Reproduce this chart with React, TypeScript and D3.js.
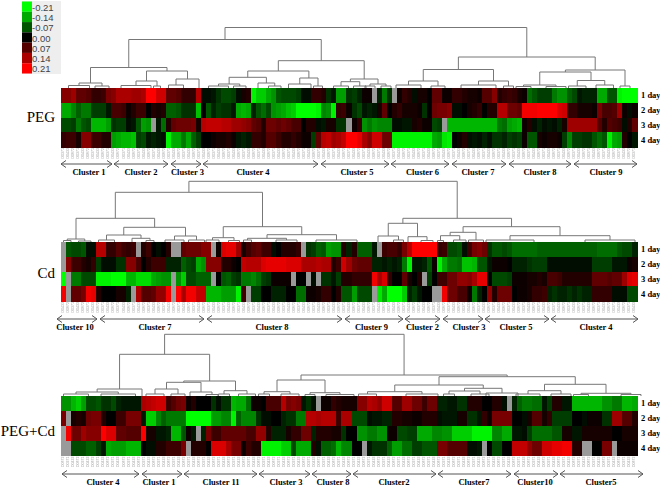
import React from "react";
import * as d3 from "d3";

const na = null;
// Heat values, in hundredths, one entry per column (na = missing, grey)
const pegDay1 = [11,11,13,8,8,7,4,4,5,10, 11,14,14,14,13,13,14,21,21,17, 17,8,8,7,4,4,4,15,-1,-1, -2,-4,-6,-6,-5,-1,2,3,-20,-17, -17,-14,-12,-7,-6,-6,-6,-5,-1,-1, 4,4,3,-4,-2,-13,-13,-4,-5,-3, 1,1,na,-3,-10,-4,na,1,4,3, -1,2,2,0,8,8,1,1,4,4, 3,2,2,1,7,7,11,3,4,5, 4,2,1,-9,-7,-5,-5,-5,-10,-12, -12,-8,-6,-2,-3,-3,-3,-14,-14,-7, -7,-20,-21,-21,-21];
const pegDay2 = [-14,-14,-11,-8,-10,-10,-5,-5,-5,-2, 6,6,5,1,3,5,5,0,3,2, 3,-8,-8,-7,-4,-4,-4,-16,0,-7, -3,-5,-4,-4,-2,-14,-15,-14,-3,-7, -9,-6,-12,-13,-14,-16,-17,-21,-21,-21, -21,-20,-11,-12,-20,4,5,1,-4,-6, -2,-3,-2,2,8,0,3,4,2,2, 2,1,-4,0,9,10,10,11,-1,-1, 0,2,3,4,0,3,3,15,15,9, 9,8,20,20,20,21,21,21,21,18, 17,4,4,2,2,2,1,10,6,6, 7,13,1,-1,1];
const pegDay3 = [-6,-6,-5,-10,-7,-6,-15,-15,-15,-13, -4,-5,-5,-1,-2,-7,-13,-12,na,-2, -9,3,8,9,9,9,10,2,15,16, 16,16,15,15,13,13,12,11,8,7, 3,9,9,8,9,8,6,6,0,3, 3,-1,-2,2,2,-4,-4,na,1,4, -12,-10,-12,-11,-11,-11,-1,-1,-2,-2, 2,3,1,1,-6,-5,na,-15,-15,-15, -15,-15,-15,-15,-15,-15,-15,-10,-9,-13, -14,-15,1,3,-1,-3,-1,-2,-1,-3, 2,13,13,13,13,13,13,7,3,7, 6,5,-1,3,8];
const pegDay4 = [4,5,5,2,11,11,5,5,3,3, -13,-14,-15,-15,-16,-5,-6,-2,-3,-2, -1,-20,-14,-14,-10,-14,-8,-5,0,0, 1,2,2,3,1,-2,-3,-2,4,4, 3,7,7,5,3,3,4,3,1,1, -5,8,15,16,13,14,16,21,21,19, 14,11,17,17,9,9,-20,-20,-20,-20, -20,-20,-20,-20,-14,-13,-19,-20,0,1, 3,-1,-2,-1,-3,-1,-4,-4,-3,-5, -4,-5,1,-7,-7,2,1,2,2,1, -5,-11,-5,-5,-4,-4,-7,-9,-7,-20, -14,-13,3,0,-2];

const cdDay1 = [na,-7,-6,-6,-7,-1,-1,15,15,4, 4,7,5,4,5,na,3,5,0,-1, 0,3,na,na,8,9,9,9,11,11, na,1,18,19,19,13,2,5,7,8, 5,5,-1,0,3,3,3,4,na,-4, -5,-8,-7,-13,-12,-12,3,-3,3,-8, -8,-8,-2,na,5,6,6,4,10,15, 21,21,21,21,21,4,5,-6,-6,-7, -1,5,10,11,9,-4,-7,-7,-6,-7, -9,-9,-9,-9,-9,-8,-8,-8,-8,-8, -8,-8,-8,-8,-8,-8,-8,-9,-9,-9, -9,-7,-6,-6,-3];
const cdDay2 = [na,11,5,5,3,2,4,-5,-1,-1, -1,-4,-4,11,11,6,0,3,5,5, 5,-3,-3,-3,-8,-6,-5,-14,-12,11, 11,11,3,3,1,0,16,15,15,15, 18,19,19,19,19,18,18,18,14,14, 14,15,14,14,3,5,17,13,9,8, 8,8,-3,-3,-2,-3,-2,-3,-10,-20, -2,-2,-3,-7,1,-20,-14,-10,-10,-9, -16,-16,-15,-7,-7,-2,1,1,1,0, -3,-3,-3,-4,-5,-5,-5,-1,-1,-1, -1,-1,-1,-1,-1,-1,-5,-5,-5,-5, -2,-2,-2,1,2];
const cdDay3 = [-21,na,-10,-10,-6,-6,-6,-20,-20,-20, -21,-21,-21,-15,-15,-18,-18,-18,-14,-13, -12,-12,na,-12,-17,-6,-6,-8,-8,-8, na,0,-7,-8,-5,-4,-10,-10,-11,-9, -5,-4,1,1,1,1,na,0,0,na, -1,na,-4,-4,-2,-5,3,3,4,4, 4,4,20,14,18,4,0,0,8,2, 0,3,na,-5,0,5,5,9,9,12, 12,11,14,19,19,0,-6,-6,-6,-5, 1,1,1,2,2,3,2,6,6,5, 3,3,3,3,3,3,8,8,8,7, 8,8,13,18,19];
const cdDay4 = [20,na,8,8,10,20,19,3,0,0, 0,2,2,-3,na,14,7,7,8,12, 12,20,na,21,14,20,20,16,16,-15, -15,-15,-13,-13,-13,-20,5,na,-5,-5, 0,0,-3,-3,-3,0,0,-9,-9,1, 1,2,4,4,0,3,-7,-7,-13,-6, -6,-6,na,-19,-14,-21,-21,-21,-17,-3, -5,-2,0,0,na,na,20,9,9,6, 6,1,-10,-3,0,12,3,9,9,9, 0,1,1,2,4,4,5,-3,-4,-3, -3,-4,-3,-4,-3,-3,4,4,4,4, -1,-1,-1,-6,-6];

const mixDay1 = [-12,-12,-15,-17,-13,-6,-6,-7,-4,-4, -6,-3,-2,-2,-2,-2,14,15,16,17, 17,5,7,9,10,1,3,0,0,0, -4,-1,-4,-4,-15,-14,-14,-9,1,1, 0,6,6,6,15,10,11,10,-2,-4, -1,na,1,1,4,3,2,2,2,11, 11,15,14,12,17,17,7,7,13,13, 9,9,5,9,9,-3,-3,-2,-2,-4, -4,3,3,3,0,0,3,3,-1,na, -3,-8,-10,-10,-9,-9,-2,-5,3,3, -2,-2,-15,-15,-15,-15,-15,-15,-12,-12, -10,-10,-15,-15,-14];
const mixDay2 = [10,na,2,3,2,9,10,10,3,0, 0,5,5,10,10,10,-2,-17,-17,-11, -8,-10,-10,-10,-10,-21,-21,-21,-21,-21, -13,-13,-11,-11,-20,-8,-11,-11,-11,-4, -1,-1,0,0,-3,-4,-4,-10,-10,15, 15,14,15,15,15,5,14,14,-6,-6, -6,-1,-2,-2,-3,-3,3,3,2,2, 1,1,3,3,3,-1,-2,-2,-2,2, 2,-4,-4,-2,4,1,10,10,10,10, 0,0,-1,2,7,7,2,4,-5,-5, -5,-5,0,0,-1,1,1,1,-4,-4, 13,13,7,7,3];
const mixDay3 = [na,20,9,9,13,11,11,11,21,18, 18,8,8,7,7,7,21,2,2,-2, -2,-3,-15,-15,-7,1,-2,na,-3,10, 5,5,8,8,8,8,8,6,6,12, 12,3,-3,-3,-3,2,4,4,9,9, -3,3,3,3,2,2,-4,0,0,-12, -12,-10,-10,-12,-12,1,1,-6,-6,-5, -5,-14,-14,-14,-11,-11,-12,-12,-17,-17, -17,-17,-20,-20,-20,-20,-11,-11,-14,-14, -2,-2,-1,-5,-9,-9,-9,-9,-7,-7, 2,2,-2,-2,2,2,2,2,2,2, 0,0,2,2,2];
const mixDay4 = [na,na,-6,-6,-6,-8,-8,-5,-2,-14, -13,-13,-13,-15,-15,-15,0,-1,-1,3, 3,5,5,5,10,na,3,3,3,0, 18,18,18,14,10,10,1,5,3,3, -20,-20,-20,-20,-17,-17,-6,-14,-14,-14, 3,-1,-8,-8,-9,-15,-11,-11,0,0, na,-2,-4,-4,-4,-8,-13,-13,-9,-9, -5,-5,-7,-7,-7,10,10,7,7,7, 7,-1,-1,-2,na,0,-6,-6,0,0, 16,16,16,12,9,9,17,17,19,19, 20,20,3,3,na,na,0,0,10,10, na,1,1,1,1];

const days = ["1 day", "2 day", "3 day", "4 day"];
const legendValues = [-0.21, -0.14, -0.07, 0, 0.07, 0.14, 0.21];
const legendLabels = ["-0.21", "-0.14", "-0.07", "0.00", "0.07", "0.14", "0.21"];

const pegClusters = ["Cluster 1","Cluster 2","Cluster 3","Cluster 4","Cluster 5","Cluster 6","Cluster 7","Cluster 8","Cluster 9"];
const pegSpans = [[0,10.2],[10.6,21.4],[22,28],[28.4,51.4],[52,65.6],[66,77.6],[78.2,89],[89.6,102],[102.6,115.2]];
const pegLabelAt = [5.6,16,25.3,38.4,59.2,72.3,83.4,95.8,109];
const cdClusters = ["Cluster 10","Cluster 7","Cluster 8","Cluster 9","Cluster 2","Cluster 3","Cluster 5","Cluster 4"];
const cdSpans = [[-0.8,7.2],[7.8,28.6],[29.2,56.2],[56.8,68.4],[68.8,75.8],[76.4,84.4],[84.8,97.6],[98,115.4]];
const cdLabelAt = [2.8,18.8,42.2,62.1,72.3,81.6,91,107];
const mixClusters = ["Cluster 4","Cluster 1","Cluster 11","Cluster 3","Cluster 8","Cluster2","Cluster7","Cluster10","Cluster5"];
const mixSpans = [[0.2,15.6],[16.2,24.2],[24.6,39.2],[39.6,49.8],[50.2,58],[58.4,75],[75.4,90],[90.6,99.4],[99.8,116.4]];
const mixLabelAt = [8.4,19.6,32,45,54.4,66.6,82.6,94.8,108];

const geneIds = ["D105","D0212","D063","D1148","D0371","D92","D0147","D058","D1036","D0284","D719","D0433","D096","D1172","D0561","D308","D0845","D129","D0672","D1011","D254"];

// Dendrograms: [height, left, right]; a plain number is a leaf at that column position
type Tree = [number, Tree | number, Tree | number];
const pegTree: Tree = [60.5,
  [48.5,
    [20.5, [5,[2.5,1.5,5.7],[2,6.8,9.6]],
      [17, [7,[2.5,12,18],[2,18.5,19.9]], [9,[3,21.5,24.5],27.6]]],
    [27.3,
      [17,
        [10.7,[4,[2,29.5,33.5],[2,34.5,37]],[5,39.4,[2,41.5,44]]],
        [10,[4,45.5,50],[2,50.5,52.3]]],
      [9,[6.3,[2,54.5,57.5],[2,58.5,61]],[4,[2,60.8,62.8],[2,64,66]]]]],
  [31,
    [18.5,
      [7,[3,67,72],[2,74,76.8]],
      [7,[3,80,87],[2,88.5,90.5]]],
    [18,
      [16,[3,[1.5,91,94],[1.5,97,101]],[7.5,[2,101.5,105],[3,107,110.5]]],
      [2,111.8,113.8]]]];
const cdTree: Tree = [60.7,
  [49.7,
    [23.7,
      [3,[1.5,0.5,2],[1,3.5,6]],
      [14.7,
        [7,[2,7.5,10.7],[3.7,14.2,[1.5,17,18.6]]],
        [6,[2,20.8,24.6],[2,25.5,28.7]]]],
    [15.3,
      [4.3,[2,29,31.6],[1.5,33.5,35.7]],
      [7.3,
        [3.7,[2,36.5,38.1],[2,43,47.2]],
        [2,51,59.2]]]],
  [23.7,
    [18.7,
      [6,63.4,[2,66.5,68.5]],
      [5.3,69.4,[1.5,72,74.4]]],
    [15.3,
      [9.7,[6.3,[1.5,75.3,76.5],[2,78.5,81]],[2,81.5,84.5]],
      [6.3,[2,85,94.6],[2,104.8,114.8]]]]];
const mixTree: Tree = [61.7,
  [41.7,
    [7,[4,[2,0.5,5.5],[2,8,14.9]],16.2],
    [15,
      [13.7,[7,[2,17,20.6],[2,22,24.8]],[4,25.8,[1.5,29,31.4]]],
      [5.3,[2,31.5,33.7],[2,35.5,38.9]]]],
  [21,
    [16,
      [4.3,[2,39.5,41.7],[2,44,47.6]],
      [3.3,[1.5,48.8,50.8],[1.5,53,58.6]]],
    [19.3,
      [11,
        [4.3,[2,59.5,63.1],[2,69,75.4]],
        [7.7,[5,[2,76.5,78.7],[2,82,85.6]],[3,85,91.4]]],
      [11.7,
        [5.3,[2,91,95.8],[2,98,102]],
        [2.7,[1.5,102.5,105.5],[1.5,112,116]]]]]];

const panels = [
  { name: "PEG", rows: [pegDay1, pegDay2, pegDay3, pegDay4], tree: pegTree, clusters: pegClusters, spans: pegSpans, labelAt: pegLabelAt, top: 88, bottom: 147, arrowY: 164, nameY: 117 },
  { name: "Cd", rows: [cdDay1, cdDay2, cdDay3, cdDay4], tree: cdTree, clusters: cdClusters, spans: cdSpans, labelAt: cdLabelAt, top: 242, bottom: 301, arrowY: 319, nameY: 273 },
  { name: "PEG+Cd", rows: [mixDay1, mixDay2, mixDay3, mixDay4], tree: mixTree, clusters: mixClusters, spans: mixSpans, labelAt: mixLabelAt, top: 396, bottom: 455.5, arrowY: 474, nameY: 431 },
];

const N = 115;
const color = d3.scaleLinear<string>().domain([-0.21, 0, 0.21]).range(["#00ff00", "#000000", "#ff0000"]).clamp(true);
const SERIF = "'Liberation Serif', serif";

function treePath(tree: Tree, x: (c: number) => number, y: (h: number) => number) {
  const path = d3.path();
  const walk = (n: Tree | number): { px: number; h: number } => {
    if (typeof n === "number") return { px: x(n), h: 0 };
    const a = walk(n[1]);
    const b = walk(n[2]);
    path.moveTo(a.px, y(a.h));
    path.lineTo(a.px, y(n[0]));
    path.lineTo(b.px, y(n[0]));
    path.lineTo(b.px, y(b.h));
    return { px: (a.px + b.px) / 2, h: n[0] };
  };
  walk(tree);
  return path.toString();
}

function Panel({ p }: { p: (typeof panels)[number] }) {
  const cols = d3.range(N);
  const band = d3.scaleBand<number>().domain(cols).range([61, 637]);
  const pos = d3.scaleLinear().domain([0, N]).range([61, 636]);
  const rowBand = d3.scaleBand<string>().domain(days).range([p.top, p.bottom]);
  const treeY = d3.scaleLinear().domain([0, 70]).range([p.top, p.top - 70]);
  return (
    <g>
      <text x={55} y={p.nameY} textAnchor="end" dominantBaseline="central" fontFamily={SERIF} fontSize={15} fill="#000">{p.name}</text>
      <g filter="url(#soft)">
        <path d={treePath(p.tree, pos, treeY)} fill="none" stroke="#777" strokeWidth={1} />
        <g shapeRendering="crispEdges">
          {p.rows.map((row, r) =>
            row.map((v, c) => (
              <rect key={r + "-" + c} x={band(c)} y={rowBand(days[r])} width={band.bandwidth() + 0.6} height={rowBand.bandwidth() + 0.6}
                fill={v === null ? "#9a9a9a" : color(v / 100)} />
            ))
          )}
        </g>
        {cols.map((c) => (
          <text key={c} transform={`translate(${band(c)! + 3.4},${p.bottom + 1}) rotate(-90)`} textAnchor="end" fontFamily="'Liberation Sans', sans-serif" fontSize={3.6} fill="#a0a0a0">
            {geneIds[(c * 7 + p.top) % geneIds.length]}
          </text>
        ))}
      </g>
      {days.map((d) => (
        <text key={d} x={641} y={rowBand(d)! + rowBand.bandwidth() / 2} dominantBaseline="central" fontFamily={SERIF} fontWeight="bold" fontSize={8.5} fill="#000">{d}</text>
      ))}
      {p.clusters.map((name, i) => {
        const x0 = pos(p.spans[i][0]);
        const x1 = pos(p.spans[i][1]);
        const y = p.arrowY;
        return (
          <g key={name}>
            <path d={`M${x0},${y}H${x1}M${x0 + 5},${y - 3.5}L${x0},${y}L${x0 + 5},${y + 3.5}M${x1 - 5},${y - 3.5}L${x1},${y}L${x1 - 5},${y + 3.5}`} fill="none" stroke="#555" strokeWidth={1} />
            <text x={pos(p.labelAt[i])} y={y + 8} textAnchor="middle" dominantBaseline="central" fontFamily={SERIF} fontWeight="bold" fontSize={8.5} fill="#000">{name}</text>
          </g>
        );
      })}
    </g>
  );
}

export default function App() {
  const legend = d3.scaleBand<number>().domain(legendValues).range([1.5, 73.5]);
  return (
    <svg width={660} height={486} viewBox="0 0 660 486" style={{ position: "absolute", left: 0, top: 0, background: "#fff" }}>
      <defs>
        <filter id="soft" x="-2%" y="-5%" width="104%" height="110%">
          <feGaussianBlur stdDeviation="0.5" />
        </filter>
      </defs>
      <rect x={22} y={1} width={39} height={73} fill="#eeeeee" />
      {legendValues.map((v, i) => (
        <g key={v}>
          <rect x={22} y={legend(v)} width={10} height={legend.bandwidth()} fill={color(v)} />
          <text x={32} y={legend(v)! + legend.bandwidth() / 2 + 0.5} dominantBaseline="central" fontFamily="'Liberation Sans', sans-serif" fontSize={9.5} fill="#444">{legendLabels[i]}</text>
        </g>
      ))}
      {panels.map((p) => <Panel key={p.name} p={p} />)}
    </svg>
  );
}
